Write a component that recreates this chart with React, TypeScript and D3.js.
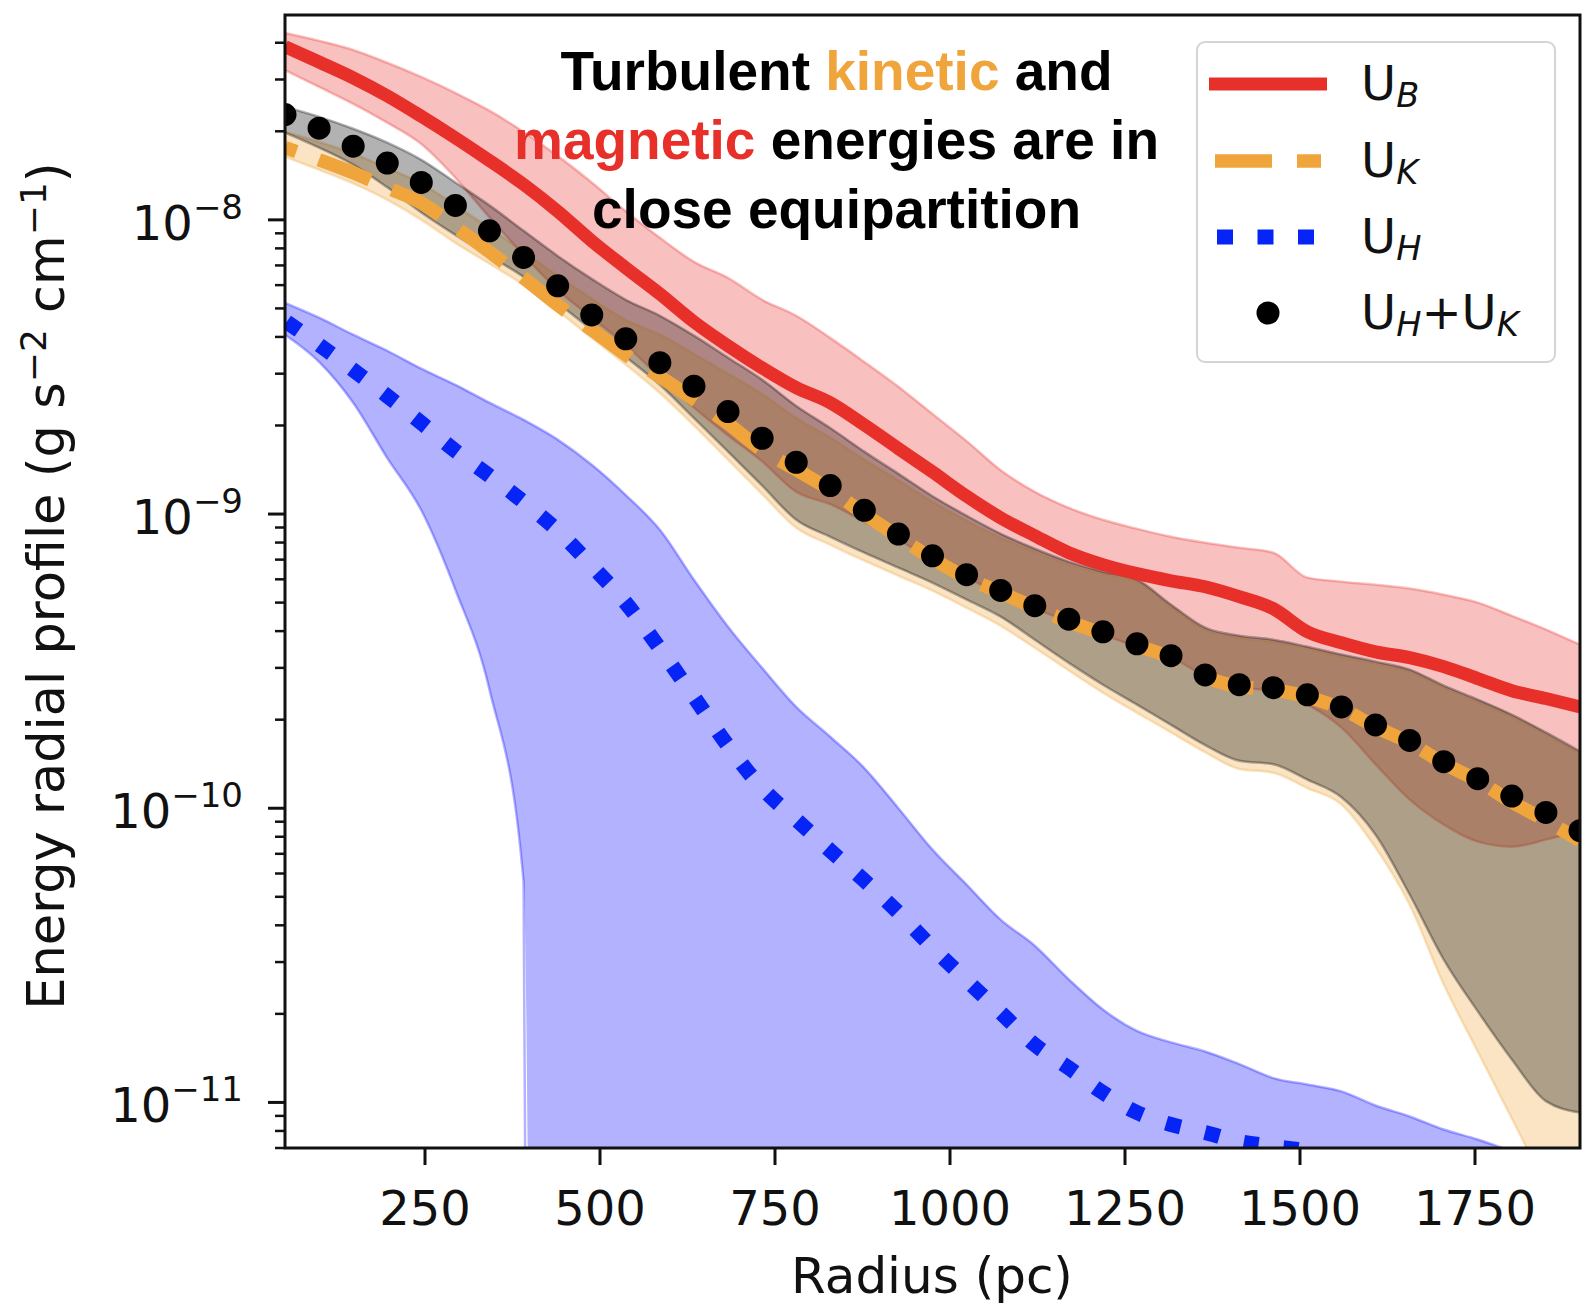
import React from 'react';
import * as d3 from 'd3';

// Radius (pc) of the radial bins
const RADIUS = [50, 98.7, 147.4, 196.1, 244.7, 293.4, 342.1, 390.8, 439.5, 488.2, 536.8, 585.5, 634.2, 682.9, 731.6, 780.3, 828.9, 877.6, 926.3, 975, 1023.7, 1072.4, 1121.1, 1169.7, 1218.4, 1267.1, 1315.8, 1364.5, 1413.2, 1461.8, 1510.5, 1559.2, 1607.9, 1656.6, 1705.3, 1753.9, 1802.6, 1851.3, 1900];

// U_B (magnetic)
const UB = [3.88e-8, 3.44e-8, 3.04e-8, 2.64e-8, 2.25e-8, 1.90e-8, 1.59e-8, 1.32e-8, 1.07e-8, 8.48e-9, 6.87e-9, 5.60e-9, 4.50e-9, 3.73e-9, 3.14e-9, 2.69e-9, 2.39e-9, 2.01e-9, 1.67e-9, 1.39e-9, 1.15e-9, 9.71e-10, 8.44e-10, 7.39e-10, 6.73e-10, 6.27e-10, 5.93e-10, 5.66e-10, 5.24e-10, 4.77e-10, 3.98e-10, 3.65e-10, 3.40e-10, 3.25e-10, 3.03e-10, 2.76e-10, 2.51e-10, 2.36e-10, 2.21e-10];
const UB_HI = [4.32e-8, 4.06e-8, 3.78e-8, 3.42e-8, 3.06e-8, 2.70e-8, 2.35e-8, 1.99e-8, 1.65e-8, 1.34e-8, 1.07e-8, 8.69e-9, 7.20e-9, 6.35e-9, 5.35e-9, 4.72e-9, 3.97e-9, 3.29e-9, 2.71e-9, 2.19e-9, 1.77e-9, 1.41e-9, 1.19e-9, 1.05e-9, 9.56e-10, 8.91e-10, 8.37e-10, 7.99e-10, 7.68e-10, 7.39e-10, 6.08e-10, 5.89e-10, 5.75e-10, 5.58e-10, 5.32e-10, 5.00e-10, 4.51e-10, 4.05e-10, 3.60e-10];
const UB_LO = [3.23e-8, 2.83e-8, 2.48e-8, 2.14e-8, 1.81e-8, 1.39e-8, 1.02e-8, 7.60e-9, 5.78e-9, 4.65e-9, 3.76e-9, 2.91e-9, 2.30e-9, 1.85e-9, 1.51e-9, 1.19e-9, 1.08e-9, 9.41e-10, 8.18e-10, 6.99e-10, 6.08e-10, 5.36e-10, 4.77e-10, 4.31e-10, 3.89e-10, 3.54e-10, 3.25e-10, 2.82e-10, 2.59e-10, 2.49e-10, 2.25e-10, 1.88e-10, 1.41e-10, 1.07e-10, 8.80e-11, 7.70e-11, 7.40e-11, 7.82e-11, 8.39e-11];

// U_K (kinetic)
const UK = [1.76e-8, 1.60e-8, 1.445e-8, 1.285e-8, 1.143e-8, 9.46e-9, 7.78e-9, 6.35e-9, 5.14e-9, 4.23e-9, 3.48e-9, 2.93e-9, 2.45e-9, 2.03e-9, 1.65e-9, 1.415e-9, 1.21e-9, 1.00e-9, 8.37e-10, 7.05e-10, 6.08e-10, 5.41e-10, 4.81e-10, 4.31e-10, 3.92e-10, 3.57e-10, 3.25e-10, 2.80e-10, 2.59e-10, 2.53e-10, 2.39e-10, 2.18e-10, 1.89e-10, 1.67e-10, 1.42e-10, 1.24e-10, 1.05e-10, 9.08e-11, 7.76e-11];
const UK_HI = [1.99e-8, 1.84e-8, 1.68e-8, 1.50e-8, 1.33e-8, 1.12e-8, 9.39e-9, 7.79e-9, 6.45e-9, 5.39e-9, 4.57e-9, 4.07e-9, 3.50e-9, 3.00e-9, 2.56e-9, 2.12e-9, 1.82e-9, 1.53e-9, 1.30e-9, 1.10e-9, 9.49e-10, 8.31e-10, 7.45e-10, 6.73e-10, 6.27e-10, 5.89e-10, 4.84e-10, 4.05e-10, 3.80e-10, 3.68e-10, 3.49e-10, 3.27e-10, 3.10e-10, 2.91e-10, 2.57e-10, 2.30e-10, 2.05e-10, 1.78e-10, 1.53e-10];
const UK_LO = [1.64e-8, 1.48e-8, 1.33e-8, 1.17e-8, 1.00e-8, 8.35e-9, 7.09e-9, 6.01e-9, 4.91e-9, 3.97e-9, 3.22e-9, 2.58e-9, 2.00e-9, 1.53e-9, 1.17e-9, 8.98e-10, 7.86e-10, 6.94e-10, 6.17e-10, 5.49e-10, 4.80e-10, 4.17e-10, 3.51e-10, 2.94e-10, 2.47e-10, 2.11e-10, 1.81e-10, 1.55e-10, 1.36e-10, 1.32e-10, 1.17e-10, 1.03e-10, 7.35e-11, 4.70e-11, 2.52e-11, 1.49e-11, 8.82e-12, 5.22e-12, 3.19e-12];

// U_H
const UH = [4.54e-9, 3.76e-9, 3.09e-9, 2.52e-9, 2.04e-9, 1.64e-9, 1.35e-9, 1.10e-9, 8.78e-10, 6.67e-10, 4.99e-10, 3.49e-10, 2.39e-10, 1.63e-10, 1.17e-10, 9.15e-11, 7.18e-11, 5.68e-11, 4.42e-11, 3.36e-11, 2.60e-11, 2.02e-11, 1.57e-11, 1.31e-11, 1.08e-11, 9.24e-12, 8.41e-12, 7.90e-12, 7.37e-12, 7.08e-12, 6.81e-12, 6.15e-12, 5.47e-12, 4.87e-12, 4.33e-12, 3.85e-12, 3.42e-12, 3.04e-12, 2.70e-12];
const UH_HI = [5.22e-9, 4.65e-9, 4.07e-9, 3.59e-9, 3.12e-9, 2.75e-9, 2.39e-9, 2.09e-9, 1.79e-9, 1.47e-9, 1.16e-9, 8.84e-10, 5.98e-10, 4.14e-10, 3.00e-10, 2.21e-10, 1.75e-10, 1.37e-10, 1.00e-10, 7.23e-11, 5.50e-11, 4.18e-11, 3.41e-11, 2.62e-11, 2.07e-11, 1.75e-11, 1.60e-11, 1.49e-11, 1.35e-11, 1.21e-11, 1.15e-11, 1.09e-11, 9.76e-12, 8.96e-12, 8.09e-12, 7.48e-12, 6.81e-12, 6.15e-12, 5.56e-12];
const UH_LO = [4.07e-9, 3.29e-9, 2.39e-9, 1.55e-9, 1.03e-9, 5.53e-10, 2.53e-10, 5.63e-11, 0, 0, 0, 0, 0, 0, 0, 0, 0, 0, 0, 0, 0, 0, 0, 0, 0, 0, 0, 0, 0, 0, 0, 0, 0, 0, 0, 0, 0, 0, 0];

// U_H + U_K
const UHK = [2.28e-8, 2.05e-8, 1.78e-8, 1.56e-8, 1.34e-8, 1.12e-8, 9.18e-9, 7.45e-9, 5.97e-9, 4.75e-9, 3.94e-9, 3.27e-9, 2.72e-9, 2.23e-9, 1.81e-9, 1.50e-9, 1.25e-9, 1.03e-9, 8.55e-10, 7.21e-10, 6.22e-10, 5.50e-10, 4.88e-10, 4.39e-10, 3.98e-10, 3.62e-10, 3.30e-10, 2.84e-10, 2.63e-10, 2.57e-10, 2.43e-10, 2.21e-10, 1.92e-10, 1.70e-10, 1.44e-10, 1.26e-10, 1.10e-10, 9.68e-11, 8.39e-11];
const UHK_HI = [2.42e-8, 2.24e-8, 2.04e-8, 1.83e-8, 1.60e-8, 1.34e-8, 1.12e-8, 9.18e-9, 7.54e-9, 6.30e-9, 5.35e-9, 4.72e-9, 4.04e-9, 3.40e-9, 2.86e-9, 2.33e-9, 1.96e-9, 1.63e-9, 1.37e-9, 1.15e-9, 9.87e-10, 8.57e-10, 7.62e-10, 6.88e-10, 6.37e-10, 5.98e-10, 4.92e-10, 4.11e-10, 3.86e-10, 3.74e-10, 3.54e-10, 3.33e-10, 3.15e-10, 2.96e-10, 2.61e-10, 2.34e-10, 2.08e-10, 1.81e-10, 1.56e-10];
const UHK_LO = [1.98e-8, 1.76e-8, 1.54e-8, 1.29e-8, 1.06e-8, 8.89e-9, 7.54e-9, 6.40e-9, 5.22e-9, 4.23e-9, 3.42e-9, 2.75e-9, 2.12e-9, 1.63e-9, 1.25e-9, 9.56e-10, 8.37e-10, 7.39e-10, 6.57e-10, 5.84e-10, 5.12e-10, 4.48e-10, 3.74e-10, 3.12e-10, 2.63e-10, 2.25e-10, 1.92e-10, 1.64e-10, 1.45e-10, 1.41e-10, 1.25e-10, 1.09e-10, 8.13e-11, 5.09e-11, 3.06e-11, 2.04e-11, 1.40e-11, 1.01e-11, 9.24e-12];

const X_TICKS = [250, 500, 750, 1000, 1250, 1500, 1750];
const Y_TICK_EXP = [-8, -9, -10, -11];
const X_DOMAIN = [50, 1900];
const Y_DOMAIN = [7.0e-12, 4.97e-8];

const RED = '#E8302A';
const ORANGE = '#F0A53C';
const BLUE_FILL = '#0000FF';
const BLUE_LINE = '#0524F5';

const W = 1589;
const H = 1311;
const PL = 285, PR = 1580, PT = 15, PB = 1148;
const AX_FONT = 'DejaVu Sans, Verdana, sans-serif';

export default function App() {
  const x = d3.scaleLinear().domain(X_DOMAIN).range([PL, PR]);
  const y = d3.scaleLog().domain(Y_DOMAIN).range([PB, PT]);
  const yv = (v: number) => y(Math.max(v, 1e-30));
  const curve = d3.curveMonotoneX;

  const area = (lo: number[], hi: number[]) =>
    d3.area<number>()
      .curve(curve)
      .x((_, i) => x(RADIUS[i]))
      .y0((_, i) => yv(lo[i]))
      .y1((_, i) => yv(hi[i]))(RADIUS) as string;
  const line = (vals: number[]) =>
    d3.line<number>()
      .curve(curve)
      .x((_, i) => x(RADIUS[i]))
      .y((_, i) => yv(vals[i]))(RADIUS) as string;

  const minorTicks: number[] = [];
  for (let e = -12; e <= -7; e++) {
    for (let m = 2; m <= 9; m++) {
      const v = m * Math.pow(10, e);
      if (v >= Y_DOMAIN[0] && v <= Y_DOMAIN[1]) minorTicks.push(v);
    }
  }

  const bands = [
    { lo: UB_LO, hi: UB_HI, c: RED },
    { lo: UK_LO, hi: UK_HI, c: ORANGE },
    { lo: UH_LO, hi: UH_HI, c: BLUE_FILL },
    { lo: UHK_LO, hi: UHK_HI, c: '#000000' },
  ];

  const subSize = 33.6;

  return (
    <svg width={W} height={H} style={{ position: 'absolute', left: 0, top: 0, background: '#fff' }}>
      <rect x={0} y={0} width={W} height={H} fill="#fff" />
      <defs>
        <clipPath id="plotclip">
          <rect x={PL} y={PT} width={PR - PL} height={PB - PT} />
        </clipPath>
      </defs>

      <g clipPath="url(#plotclip)">
        {bands.map((b, i) => (
          <path key={i} d={area(b.lo, b.hi)} fill={b.c} fillOpacity={0.3}
            stroke={b.c} strokeOpacity={0.3} strokeWidth={2.5} strokeLinejoin="round" />
        ))}
        <path d={line(UB)} fill="none" stroke={RED} strokeWidth={13} strokeLinejoin="round" />
        <path d={line(UK)} fill="none" stroke={ORANGE} strokeWidth={13.5}
          strokeDasharray="55 24" strokeDashoffset={43} />
        <path d={line(UH)} fill="none" stroke={BLUE_LINE} strokeWidth={15}
          strokeDasharray="15 25" strokeDashoffset={-2} />
        {RADIUS.map((r, i) => (
          <circle key={i} cx={x(r)} cy={yv(UHK[i])} r={11.5} fill="#000" />
        ))}
      </g>

      {/* spines */}
      <rect x={PL} y={PT} width={PR - PL} height={PB - PT} fill="none" stroke="#111" strokeWidth={3} />

      {/* x ticks */}
      {X_TICKS.map((t) => (
        <g key={t}>
          <line x1={x(t)} x2={x(t)} y1={PB} y2={PB + 17} stroke="#111" strokeWidth={3} />
          <text x={x(t)} y={1225} fontFamily={AX_FONT} fontSize={48} textAnchor="middle" fill="#111">{t}</text>
        </g>
      ))}

      {/* y ticks */}
      {minorTicks.map((v, i) => (
        <line key={i} x1={PL - 10} x2={PL} y1={y(v)} y2={y(v)} stroke="#111" strokeWidth={2.5} />
      ))}
      {Y_TICK_EXP.map((e) => {
        const yy = y(Math.pow(10, e));
        return (
          <g key={e}>
            <line x1={PL - 17} x2={PL} y1={yy} y2={yy} stroke="#111" strokeWidth={3} />
            <text x={243} y={yy + 20} fontFamily={AX_FONT} fontSize={48} textAnchor="end" fill="#111">
              <tspan>10</tspan>
              <tspan fontSize={34} dy={-21}>{'\u2212' + Math.abs(e)}</tspan>
            </text>
          </g>
        );
      })}

      {/* axis labels */}
      <text x={932} y={1293} fontFamily={AX_FONT} fontSize={50} textAnchor="middle" fill="#111">Radius (pc)</text>
      <text transform="translate(64,586) rotate(-90)" fontFamily={AX_FONT} fontSize={51} textAnchor="middle" fill="#111">
        <tspan>Energy radial profile (g s</tspan>
        <tspan fontSize={36} dy={-18}>{'\u22122'}</tspan>
        <tspan dy={18}> cm</tspan>
        <tspan fontSize={36} dy={-18}>{'\u22121'}</tspan>
        <tspan dy={18}>)</tspan>
      </text>

      {/* annotation */}
      <g fontFamily="Liberation Sans, Arial, Helvetica, sans-serif" fontWeight="bold" fontSize={55} textAnchor="middle">
        <text x={836.5} y={90} fill="#000">
          <tspan>Turbulent </tspan><tspan fill={ORANGE}>kinetic</tspan><tspan> and</tspan>
        </text>
        <text x={836.5} y={159} fill="#000">
          <tspan fill={RED}>magnetic</tspan><tspan> energies are in</tspan>
        </text>
        <text x={836.5} y={228} fill="#000">close equipartition</text>
      </g>

      {/* legend */}
      <rect x={1197} y={42} width={358} height={320} rx={8} ry={8} fill="#fff" fillOpacity={0.8} stroke="#d4d4d4" strokeWidth={2} />
      <line x1={1209} x2={1327} y1={84} y2={84} stroke={RED} strokeWidth={13} />
      <line x1={1215} x2={1321} y1={161} y2={161} stroke={ORANGE} strokeWidth={13.5} strokeDasharray="57 25" />
      <line x1={1217} x2={1315} y1={237} y2={237} stroke={BLUE_LINE} strokeWidth={15} strokeDasharray="16 24.5" />
      <circle cx={1268} cy={313} r={11.5} fill="#000" />
      <g fontFamily={AX_FONT} fontSize={48} fill="#111">
        <text x={1361} y={100}>
          <tspan>U</tspan><tspan fontSize={subSize} fontStyle="italic" dy={7}>B</tspan>
        </text>
        <text x={1361} y={177}>
          <tspan>U</tspan><tspan fontSize={subSize} fontStyle="italic" dy={7}>K</tspan>
        </text>
        <text x={1361} y={253}>
          <tspan>U</tspan><tspan fontSize={subSize} fontStyle="italic" dy={7}>H</tspan>
        </text>
        <text x={1361} y={329}>
          <tspan>U</tspan><tspan fontSize={subSize} fontStyle="italic" dy={7}>H</tspan>
          <tspan dy={-7}>+U</tspan><tspan fontSize={subSize} fontStyle="italic" dy={7}>K</tspan>
        </text>
      </g>
    </svg>
  );
}
